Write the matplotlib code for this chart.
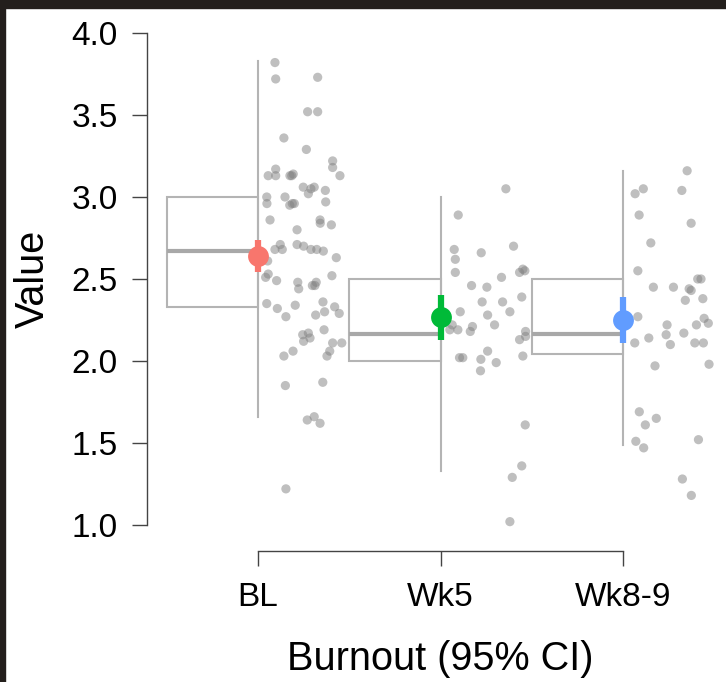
import matplotlib
matplotlib.use("Agg")
import matplotlib.pyplot as plt
from matplotlib.patches import Rectangle
import numpy as np

plt.rcParams["font.family"] = ["Liberation Sans", "DejaVu Sans"]

categories = ["BL", "Wk5", "Wk8-9"]
colors = ["#F8766D", "#00BA38", "#619CFF"]

# box summary per group
q1 = [2.33, 2.00, 2.04]
median = [2.67, 2.165, 2.165]
q3 = [3.00, 2.50, 2.50]
whisk_lo = [1.66, 1.33, 1.49]
whisk_hi = [3.83, 3.00, 3.16]

# mean and 95% CI per group
means = [2.64, 2.27, 2.25]
ci_lo = [2.54, 2.13, 2.11]
ci_hi = [2.74, 2.40, 2.39]

# raw observations (value) and their horizontal jitter offset
bl_vals = [3.82, 3.72, 3.73, 3.52, 3.52, 3.36, 3.29, 3.22, 3.18, 3.13,
           3.17, 3.13, 3.13, 3.13, 3.14, 3.13, 3.06, 3.02, 3.05, 3.06,
           3.04, 3.00, 2.96, 3.00, 2.95, 2.96, 2.96, 2.97, 2.86, 2.86,
           2.84, 2.83, 2.80, 2.71, 2.68, 2.68, 2.71, 2.70, 2.68, 2.68,
           2.67, 2.63, 2.61, 2.53, 2.51, 2.49, 2.48, 2.44, 2.46, 2.48,
           2.46, 2.52, 2.35, 2.32, 2.27, 2.34, 2.36, 2.30, 2.28, 2.33,
           2.29, 2.19, 2.16, 2.17, 2.14, 2.12, 2.11, 2.11, 2.06, 2.03,
           2.06, 2.03, 1.85, 1.87, 1.64, 1.66, 1.62, 1.22]
bl_jit = [0.093, 0.097, 0.327, 0.272, 0.327, 0.142, 0.265, 0.409, 0.409, 0.449,
          0.097, 0.056, 0.097, 0.175, 0.193, 0.185, 0.248, 0.276, 0.290, 0.308,
          0.369, 0.048, 0.049, 0.148, 0.174, 0.188, 0.199, 0.371, 0.066, 0.340,
          0.341, 0.402, 0.214, 0.122, 0.093, 0.133, 0.214, 0.250, 0.290, 0.322,
          0.358, 0.429, 0.053, 0.056, 0.042, 0.102, 0.218, 0.223, 0.298, 0.319,
          0.312, 0.405, 0.048, 0.106, 0.153, 0.204, 0.356, 0.365, 0.316, 0.420,
          0.445, 0.362, 0.245, 0.276, 0.285, 0.250, 0.409, 0.459, 0.393, 0.378,
          0.192, 0.142, 0.150, 0.355, 0.270, 0.308, 0.340, 0.153]

wk5_vals = [3.05, 2.89, 2.68, 2.62, 2.54, 2.66, 2.70, 2.56, 2.54, 2.55,
            2.51, 2.46, 2.45, 2.39, 2.36, 2.36, 2.30, 2.28, 2.30, 2.22,
            2.22, 2.19, 2.19, 2.21, 2.18, 2.18, 2.13, 2.15, 2.02, 2.02,
            2.06, 2.01, 1.99, 1.94, 2.03, 1.61, 1.36, 1.29, 1.02]
wk5_jit = [0.358, 0.097, 0.075, 0.081, 0.081, 0.223, 0.400, 0.451, 0.433, 0.462,
           0.334, 0.170, 0.254, 0.445, 0.228, 0.340, 0.108, 0.258, 0.380, 0.296,
           0.064, 0.051, 0.095, 0.175, 0.163, 0.466, 0.433, 0.466, 0.104, 0.122,
           0.258, 0.221, 0.305, 0.219, 0.451, 0.464, 0.445, 0.393, 0.380]

wk89_vals = [3.16, 3.05, 3.02, 3.04, 2.89, 2.84, 2.72, 2.55, 2.45, 2.45,
             2.50, 2.50, 2.44, 2.43, 2.38, 2.37, 2.27, 2.22, 2.22, 2.26,
             2.23, 2.16, 2.17, 2.11, 2.14, 2.10, 2.11, 2.11, 1.97, 1.98,
             1.69, 1.61, 1.65, 1.51, 1.47, 1.52, 1.28, 1.18]
wk89_jit = [0.351, 0.111, 0.066, 0.322, 0.088, 0.373, 0.152, 0.081, 0.166, 0.276,
            0.409, 0.427, 0.362, 0.373, 0.437, 0.341, 0.081, 0.241, 0.402, 0.444,
            0.467, 0.236, 0.333, 0.064, 0.141, 0.259, 0.393, 0.440, 0.175, 0.471,
            0.089, 0.122, 0.182, 0.070, 0.113, 0.413, 0.325, 0.374]

group_vals = [bl_vals, wk5_vals, wk89_vals]
group_jit = [bl_jit, wk5_jit, wk89_jit]

W, H = 726, 682
fig = plt.figure(figsize=(W / 100, H / 100), dpi=100)
fig.patch.set_facecolor("white")

# dark frame strips along the top and left edge of the screenshot
fig.patches.append(Rectangle((0, 1 - 8 / H), 1, 8 / H, transform=fig.transFigure,
                             color="#231f1c", zorder=10))
fig.patches.append(Rectangle((0, 0), 5 / W, 1, transform=fig.transFigure,
                             color="#231f1c", zorder=10))

ax = fig.add_axes([147 / W, 1 - 551 / H, (722 - 147) / W, (551 - 25) / H])
ax.set_xlim(-0.608, 2.542)
ax.set_ylim(0.841, 4.049)

box_col = "#b4b4b4"
box_w = 0.5
for i in range(len(categories)):
    x0 = i - box_w
    ax.add_patch(Rectangle((x0, q1[i]), box_w, q3[i] - q1[i], fill=False,
                           edgecolor=box_col, lw=1.5, zorder=1))
    ax.plot([x0, i], [median[i], median[i]], color="#a8a8a8", lw=3, zorder=1,
            solid_capstyle="butt")
    ax.plot([i, i], [whisk_lo[i], whisk_hi[i]], color=box_col, lw=1.5, zorder=1)

    xs = i + np.array(group_jit[i])
    ax.scatter(xs, group_vals[i], s=44, color="#808080", alpha=0.5,
               edgecolors="none", zorder=2)

    ax.plot([i, i], [ci_lo[i], ci_hi[i]], color=colors[i], lw=4.5, zorder=3,
            solid_capstyle="butt")
    ax.plot([i], [means[i]], "o", color=colors[i], markersize=15,
            markeredgewidth=0, zorder=4)

for s in ["top", "right"]:
    ax.spines[s].set_visible(False)
ax.spines["left"].set_bounds(1.0, 4.0)
ax.spines["bottom"].set_bounds(0, 2)
for s in ["left", "bottom"]:
    ax.spines[s].set_color("#444444")
    ax.spines[s].set_linewidth(1.0)

ax.set_yticks(np.arange(1.0, 4.01, 0.5))
ax.set_yticklabels([f"{v:.1f}" for v in np.arange(1.0, 4.01, 0.5)])
ax.set_xticks(range(len(categories)))
ax.set_xticklabels(categories)
ax.tick_params(axis="both", direction="out", length=11, width=1.0,
               color="#444444", labelsize=24)
ax.tick_params(axis="y", pad=10)
ax.tick_params(axis="x", pad=11)

ax.set_ylabel("Value", fontsize=28.5)
ax.set_xlabel("Burnout (95% CI)", fontsize=28.5)
# centre the titles on the spans of the drawn axis lines
ax.yaxis.set_label_coords(-0.166, (551 - 279) / 526)
ax.xaxis.set_label_coords((440.5 - 147) / 575, -0.170)

fig.savefig("out.png", dpi=100)
